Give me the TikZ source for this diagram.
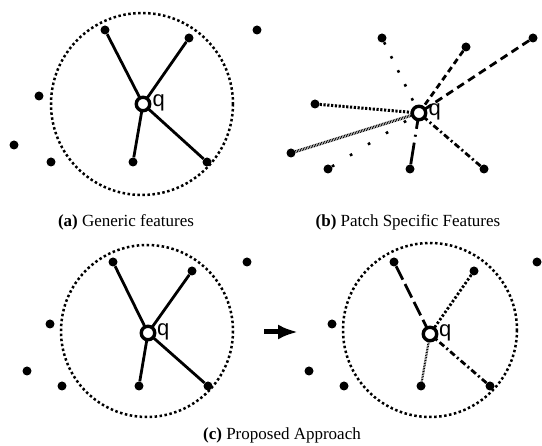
\documentclass[tikz,border=0pt]{standalone}
\usepackage{fontspec}
\setmainfont{Liberation Serif}
\newfontfamily\qfont{Liberation Sans}
\usetikzlibrary{arrows.meta,positioning}

\begin{document}
\begin{tikzpicture}[
    x=1pt, y=-1pt,
    pt/.style={circle, fill=black, inner sep=0pt, minimum size=9pt},
    qpt/.style={circle, draw, line width=3.4pt, fill=white, inner sep=0pt, minimum size=13.5pt},
    qlbl/.style={inner sep=0pt, anchor=mid west, font=\qfont\fontsize{22}{24}\selectfont},
    ring/.style={line width=2.5pt, dash pattern=on 2.5pt off 2.5pt},
    link/.style={line width=2.8pt},
    captxt/.style={font=\fontsize{17}{20}\selectfont}
]
\useasboundingbox (0,0) rectangle (542,446);

% (a) generic features
\draw[ring] (142,104) circle (91);
\node[pt] (a1) at (105,30) {};
\node[pt] (a2) at (189,38) {};
\node[pt] (a3) at (257,30) {};
\node[pt] (a4) at (39,96) {};
\node[pt] (a5) at (14,145) {};
\node[pt] (a6) at (51,162) {};
\node[pt] (a7) at (133,162) {};
\node[pt] (a8) at (207,162) {};
\draw[link] (a1) -- (143,104);
\draw[link] (a2) -- (143,104);
\draw[link] (a7) -- (143,104);
\draw[link] (a8) -- (143,104);
\node[qpt] (qa) at (143,104) {};
\node[qlbl] (qla) at ([xshift=1pt]qa.east) {q};
\node[captxt] (capa) at (126,222) {\textbf{(a)} Generic features};

% (b) patch specific features
\node[pt] (b1) at (382,38) {};
\node[pt] (b2) at (466,47) {};
\node[pt] (b3) at (533,38) {};
\node[pt] (b4) at (315,104) {};
\node[pt] (b5) at (291,153) {};
\node[pt] (b6) at (328,169) {};
\node[pt] (b7) at (410,169) {};
\node[pt] (b8) at (484,169) {};
\draw[line width=2.6pt, dash pattern=on 2.6pt off 13pt] (b1) -- (419,113);
\draw[link, dash pattern=on 6pt off 4pt] (b2) -- (419,113);
\draw[link, dash pattern=on 8pt off 5pt] (b3) -- (419,113);
\draw[link, line width=3pt, dash pattern=on 2.2pt off 1.6pt] (b4) -- (419,113);
\draw[link, line width=3pt, dash pattern=on 0.8pt off 0.8pt] (b5) -- (419,113);
\draw[line width=2.6pt, dash pattern=on 2.6pt off 18.5pt] (b6) -- (419,113);
\draw[link, dash pattern=on 22pt off 6pt on 2pt off 6pt] (b7) -- (419,113);
\draw[link, dash pattern=on 6pt off 3pt on 2pt off 3pt] (b8) -- (419,113);
\node[qpt] (qb) at (419,113) {};
\node[qlbl] (qlb) at ([xshift=1pt]qb.east) {q};
\node[captxt] (capb) at (408,222) {\textbf{(b)} Patch Specific Features};

% (c) proposed approach, left
\draw[ring] (147,331) circle (86);
\node[pt] (c1) at (113,262) {};
\node[pt] (c2) at (192,271) {};
\node[pt] (c3) at (247,262) {};
\node[pt] (c4) at (50,324) {};
\node[pt] (c5) at (27,371) {};
\node[pt] (c6) at (62,386) {};
\node[pt] (c7) at (139,386) {};
\node[pt] (c8) at (208,386) {};
\draw[link] (c1) -- (148,333);
\draw[link] (c2) -- (148,333);
\draw[link] (c7) -- (148,333);
\draw[link] (c8) -- (148,333);
\node[qpt] (qc) at (148,333) {};
\node[qlbl] (qlc) at ([xshift=0.5pt]qc.east) {q};

% (c) proposed approach, right
\draw[ring] (430,330) circle (87);
\node[pt] (d1) at (394,262) {};
\node[pt] (d2) at (474,271) {};
\node[pt] (d3) at (537,262) {};
\node[pt] (d4) at (332,324) {};
\node[pt] (d5) at (309,371) {};
\node[pt] (d6) at (344,386) {};
\node[pt] (d7) at (421,386) {};
\node[pt] (d8) at (490,386) {};
\draw[link, dash pattern=on 15pt off 5pt] (d1) -- (430,334);
\draw[link, dash pattern=on 2.4pt off 2pt] (d2) -- (430,334);
\draw[line width=2.2pt, dash pattern=on 0.8pt off 0.8pt] (d7) -- (430,334);
\draw[link, dash pattern=on 6pt off 3pt on 2pt off 3pt] (d8) -- (430,334);
\node[qpt] (qd) at (430,334) {};
\node[qlbl] (qld) at ([xshift=0.5pt]qd.east) {q};

\coordinate (from) at (264,332);
\coordinate (to) at (298,332);
\draw[line width=5pt, -{Latex[length=20pt, width=15pt]}] (from) -- (to);
\node[captxt] (capc) at (282,435) {\textbf{(c)} Proposed Approach};
\end{tikzpicture}
\end{document}
